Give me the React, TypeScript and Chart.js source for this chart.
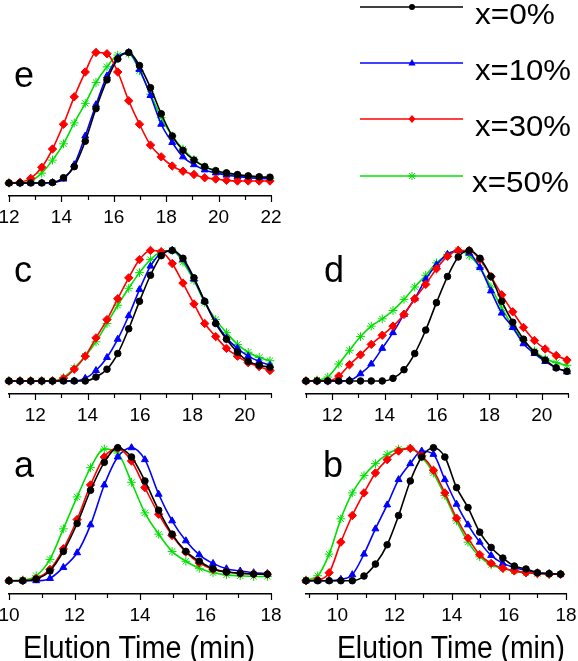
import React, { useEffect, useRef } from 'react';
import { Chart, registerables } from 'chart.js';

Chart.register(...registerables);

// ---- series metadata ----
const seriesLabels = ['x=0%', 'x=10%', 'x=30%', 'x=50%'];
const seriesColors = ['#000000', '#0000ff', '#ff0000', '#00e000'];
const seriesPointStyles = ['circle', 'triangle', 'rectRot', 'star'];
const seriesDrawOrder = [0, 2, 1, 3];

// ---- panel e ----
const timeE = [12.0, 12.42, 12.83, 13.25, 13.66, 14.08, 14.49, 14.91, 15.32, 15.74, 16.15, 16.57, 16.98, 17.4, 17.81, 18.23, 18.64, 19.06, 19.47, 19.89, 20.3, 20.72, 21.13, 21.55, 21.96];
const e0 = [0, 0, 0, 0, 0.003, 0.04, 0.125, 0.32, 0.57, 0.79, 0.95, 1.0, 0.9, 0.73, 0.53, 0.36, 0.25, 0.175, 0.125, 0.094, 0.077, 0.064, 0.054, 0.047, 0.044];
const e10 = [0, 0, 0, 0, 0.003, 0.03, 0.14, 0.36, 0.6, 0.82, 0.96, 1.0, 0.87, 0.67, 0.45, 0.31, 0.2, 0.14, 0.1, 0.077, 0.06, 0.05, 0.04, 0.035, 0.03];
const e30 = [0, 0.005, 0.035, 0.12, 0.26, 0.45, 0.66, 0.85, 1.0, 0.99, 0.85, 0.63, 0.45, 0.29, 0.2, 0.13, 0.09, 0.065, 0.04, 0.03, 0.02, 0.015, 0.015, 0.015, 0.015];
const e50 = [0, 0, 0.015, 0.075, 0.175, 0.3, 0.46, 0.61, 0.77, 0.89, 0.98, 0.99, 0.86, 0.68, 0.5, 0.36, 0.26, 0.18, 0.125, 0.09, 0.07, 0.052, 0.044, 0.04, 0.035];
const ticksE = [12, 14, 16, 18, 20, 22];

// ---- panels c and d ----
const timeCD = [11.0, 11.42, 11.83, 12.25, 12.66, 13.08, 13.49, 13.91, 14.32, 14.74, 15.15, 15.57, 15.98, 16.4, 16.81, 17.23, 17.64, 18.06, 18.47, 18.89, 19.3, 19.72, 20.13, 20.55, 20.96];
const c0 = [0, 0, 0, 0, 0, 0, 0, 0, 0.03, 0.09, 0.21, 0.4, 0.61, 0.81, 0.96, 1.0, 0.94, 0.79, 0.61, 0.44, 0.32, 0.22, 0.15, 0.12, 0.105];
const c10 = [0, 0, 0, 0, 0, 0, 0, 0.02, 0.08, 0.18, 0.32, 0.5, 0.7, 0.88, 0.98, 1.0, 0.93, 0.78, 0.61, 0.45, 0.33, 0.25, 0.19, 0.15, 0.12];
const c30 = [0, 0, 0, 0, 0, 0.02, 0.09, 0.19, 0.33, 0.47, 0.63, 0.79, 0.93, 1.0, 0.99, 0.9, 0.75, 0.59, 0.44, 0.34, 0.25, 0.19, 0.14, 0.11, 0.08];
const c50 = [0, 0, 0, 0, 0, 0.025, 0.1, 0.19, 0.3, 0.44, 0.58, 0.71, 0.83, 0.93, 0.99, 1.0, 0.91, 0.77, 0.6, 0.47, 0.37, 0.28, 0.22, 0.18, 0.155];
const d0 = [0, 0, 0, 0, 0, 0, 0, 0, 0.02, 0.086, 0.21, 0.39, 0.6, 0.8, 0.95, 1.0, 0.94, 0.8, 0.61, 0.45, 0.32, 0.22, 0.16, 0.1, 0.074];
const d10 = [0, 0, 0, 0, 0.005, 0.055, 0.13, 0.25, 0.37, 0.51, 0.63, 0.78, 0.89, 0.97, 1.0, 0.98, 0.87, 0.69, 0.52, 0.41, 0.285, 0.21, 0.15, 0.1, 0.07];
const d30 = [0, 0, 0, 0.037, 0.124, 0.2, 0.28, 0.35, 0.42, 0.51, 0.63, 0.74, 0.86, 0.955, 1.0, 1.0, 0.93, 0.8, 0.66, 0.53, 0.41, 0.31, 0.245, 0.195, 0.16];
const d50 = [0, 0.007, 0.03, 0.13, 0.235, 0.34, 0.42, 0.476, 0.54, 0.625, 0.72, 0.81, 0.905, 0.97, 1.0, 0.96, 0.87, 0.72, 0.56, 0.42, 0.31, 0.23, 0.17, 0.14, 0.12];
const ticksCD = [12, 14, 16, 18, 20];

// ---- panel a ----
const timeA = [10.0, 10.42, 10.83, 11.25, 11.66, 12.08, 12.49, 12.91, 13.32, 13.74, 14.15, 14.57, 14.98, 15.4, 15.81, 16.23, 16.64, 17.06, 17.47, 17.89];
const a0 = [0, 0, 0.012, 0.073, 0.22, 0.43, 0.68, 0.89, 1.0, 0.93, 0.75, 0.53, 0.35, 0.22, 0.146, 0.09, 0.066, 0.056, 0.05, 0.049];
const a10 = [0, 0, 0, 0.017, 0.1, 0.21, 0.42, 0.72, 0.93, 1.0, 0.91, 0.65, 0.45, 0.3, 0.195, 0.13, 0.09, 0.073, 0.06, 0.054];
const a30 = [0, 0, 0.017, 0.085, 0.24, 0.46, 0.72, 0.93, 0.995, 0.9, 0.7, 0.5, 0.34, 0.215, 0.134, 0.085, 0.066, 0.056, 0.05, 0.049];
const a50 = [0, 0.005, 0.037, 0.16, 0.39, 0.63, 0.85, 0.99, 0.96, 0.74, 0.51, 0.35, 0.22, 0.146, 0.093, 0.06, 0.044, 0.037, 0.032, 0.032];
const ticksA = [10, 12, 14, 16, 18];

// ---- panel b ----
const timeB = [8.9, 9.31, 9.71, 10.12, 10.52, 10.93, 11.33, 11.74, 12.14, 12.55, 12.95, 13.36, 13.76, 14.17, 14.57, 14.98, 15.38, 15.79, 16.19, 16.6, 17.0, 17.41, 17.81];
const b0 = [0, 0, 0, 0, 0, 0.035, 0.125, 0.27, 0.49, 0.75, 0.93, 1.0, 0.93, 0.7, 0.55, 0.365, 0.25, 0.17, 0.11, 0.088, 0.06, 0.053, 0.049];
const b10 = [0, 0, 0, 0.01, 0.045, 0.2, 0.39, 0.57, 0.76, 0.88, 0.975, 0.95, 0.76, 0.575, 0.42, 0.29, 0.19, 0.13, 0.1, 0.077, 0.06, 0.054, 0.05];
const b30 = [0, 0.007, 0.06, 0.29, 0.49, 0.66, 0.81, 0.91, 0.975, 0.995, 0.94, 0.83, 0.66, 0.47, 0.32, 0.196, 0.13, 0.093, 0.074, 0.06, 0.054, 0.049, 0.049];
const b50 = [0.005, 0.037, 0.2, 0.465, 0.66, 0.79, 0.88, 0.95, 0.99, 0.995, 0.93, 0.81, 0.64, 0.45, 0.29, 0.18, 0.12, 0.093, 0.074, 0.06, 0.054, 0.049, 0.049];
const ticksB = [10, 12, 14, 16, 18];

const axisTitle = 'Elution Time (min)';

// ---- layout ----
const PAD = 20;
const AXIS_H = 40;
const FONT = '"Liberation Sans", Arial, Helvetica, sans-serif';

const tickMarks = {
  id: 'tickMarks',
  afterDraw(chart: any) {
    const s = chart.scales.x;
    const ctx = chart.ctx;
    const yb = Math.round(chart.chartArea.bottom);
    ctx.save();
    ctx.strokeStyle = '#000';
    ctx.lineWidth = 1.2;
    for (let v = Math.ceil(s.min); v <= s.max + 1e-9; v++) {
      const x = Math.round(s.getPixelForValue(v)) + 0.5;
      const len = v % 2 === 0 ? 6 : 4;
      ctx.beginPath();
      ctx.moveTo(x, yb);
      ctx.lineTo(x, yb + len);
      ctx.stroke();
    }
    ctx.restore();
  },
};

type Box = { left: number; right: number; top: number; bottom: number };

function Panel(props: { time: number[]; series: number[][]; xMin: number; xMax: number; tickLabels: number[]; box: Box }) {
  const { time, series, xMin, xMax, tickLabels, box } = props;
  const ref = useRef<HTMLCanvasElement>(null);
  const w = box.right - box.left + 2 * PAD;
  const h = box.bottom - box.top + AXIS_H;
  useEffect(() => {
    const datasets = series.map((vals, i) => ({
      label: seriesLabels[i],
      data: time.map((t, j) => ({ x: t, y: vals[j] })),
      borderColor: seriesColors[i],
      backgroundColor: seriesColors[i],
      pointBorderColor: seriesColors[i],
      pointBackgroundColor: seriesColors[i],
      pointStyle: seriesPointStyles[i],
      pointRadius: [3.3, 4, 4.2, 4.4][i],
      pointBorderWidth: 1,
      borderWidth: 1.6,
      cubicInterpolationMode: 'monotone',
      order: seriesDrawOrder[i],
      clip: false,
    }));
    const chart = new Chart(ref.current as HTMLCanvasElement, {
      type: 'line',
      data: { datasets } as any,
      plugins: [tickMarks],
      options: {
        animation: false,
        responsive: false,
        maintainAspectRatio: false,
        devicePixelRatio: 1,
        layout: { padding: { left: PAD, right: PAD, top: 0, bottom: 0 } },
        plugins: { legend: { display: false }, tooltip: { enabled: false }, title: { display: false } },
        scales: {
          x: {
            type: 'linear',
            min: xMin,
            max: xMax,
            afterFit: (scale: any) => {
              scale.height = AXIS_H;
            },
            grid: { display: false },
            border: { display: true, color: '#000', width: 1.5 },
            ticks: {
              stepSize: 1,
              autoSkip: false,
              maxRotation: 0,
              minRotation: 0,
              padding: 2,
              color: '#000',
              font: { family: FONT, size: 19 },
              callback: (v: any) => (tickLabels.includes(Number(v)) ? String(v) : ''),
            },
          },
          y: { display: false, min: -0.1, max: 1.1 },
        },
      } as any,
    });
    return () => chart.destroy();
  }, []);
  return (
    <canvas
      ref={ref}
      width={w}
      height={h}
      style={{ position: 'absolute', left: box.left - PAD, top: box.top, width: w, height: h, display: 'block' }}
    />
  );
}

const legendRowsY = [7, 63, 119, 176];
const legendTextBase = [23.5, 79.5, 135.5, 191.5];
const legendTextX = [475, 475, 475, 472];
const legendTextLen = [80, 96, 96, 97];

function LegendMarker({ i, cx, cy }: { i: number; cx: number; cy: number }) {
  const c = seriesColors[i];
  if (i === 0) return <circle cx={cx} cy={cy} r={3} fill={c} />;
  if (i === 1) return <polygon points={`${cx},${cy - 4} ${cx + 3.6},${cy + 2.5} ${cx - 3.6},${cy + 2.5}`} fill={c} />;
  if (i === 2) return <polygon points={`${cx},${cy - 4} ${cx + 3.5},${cy} ${cx},${cy + 4} ${cx - 3.5},${cy}`} fill={c} />;
  return (
    <g stroke={c} strokeWidth={1}>
      <line x1={cx - 4} y1={cy} x2={cx + 4} y2={cy} />
      <line x1={cx} y1={cy - 4} x2={cx} y2={cy + 4} />
      <line x1={cx - 3} y1={cy - 3} x2={cx + 3} y2={cy + 3} />
      <line x1={cx - 3} y1={cy + 3} x2={cx + 3} y2={cy - 3} />
    </g>
  );
}

export default function App() {
  return (
    <div style={{ position: 'fixed', left: 0, top: 0, width: 578, height: 661, overflow: 'hidden', background: '#fff' }}>
      <Panel time={timeE} series={[e0, e10, e30, e50]} xMin={12} xMax={22} tickLabels={ticksE} box={{ left: 9, right: 271, top: 34, bottom: 196 }} />
      <Panel time={timeCD} series={[c0, c10, c30, c50]} xMin={11} xMax={21} tickLabels={ticksCD} box={{ left: 9, right: 271, top: 232, bottom: 394 }} />
      <Panel time={timeCD} series={[d0, d10, d30, d50]} xMin={11} xMax={21} tickLabels={ticksCD} box={{ left: 306, right: 568, top: 232, bottom: 394 }} />
      <Panel time={timeA} series={[a0, a10, a30, a50]} xMin={10} xMax={18} tickLabels={ticksA} box={{ left: 9, right: 271, top: 429, bottom: 594 }} />
      <Panel time={timeB} series={[b0, b10, b30, b50]} xMin={8.9} xMax={18} tickLabels={ticksB} box={{ left: 306, right: 566, top: 429, bottom: 594 }} />
      <svg width={578} height={661} style={{ position: 'absolute', left: 0, top: 0, pointerEvents: 'none' }}>
        <g fontFamily={FONT} fontSize={36} fill="#000">
          <text x={14} y={87}>e</text>
          <text x={14} y={282}>c</text>
          <text x={324} y={282}>d</text>
          <text x={14} y={477}>a</text>
          <text x={323} y={477}>b</text>
        </g>
        {seriesLabels.map((lab, i) => (
          <g key={lab}>
            <line x1={360} y1={legendRowsY[i]} x2={463} y2={legendRowsY[i]} stroke={seriesColors[i]} strokeWidth={1.6} />
            <LegendMarker i={i} cx={412} cy={legendRowsY[i]} />
            <text
              x={legendTextX[i]}
              y={legendTextBase[i]}
              fontFamily={FONT}
              fontSize={29}
              textLength={legendTextLen[i]}
              lengthAdjust="spacingAndGlyphs"
              fill="#000"
            >
              {lab}
            </text>
          </g>
        ))}
        <text x={139} y={658} textAnchor="middle" fontFamily={FONT} fontSize={31} textLength={232} lengthAdjust="spacingAndGlyphs" fill="#000">
          {axisTitle}
        </text>
        <text x={451} y={658} textAnchor="middle" fontFamily={FONT} fontSize={31} textLength={228} lengthAdjust="spacingAndGlyphs" fill="#000">
          {axisTitle}
        </text>
      </svg>
    </div>
  );
}
